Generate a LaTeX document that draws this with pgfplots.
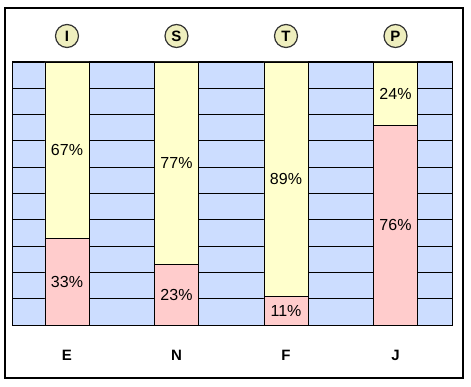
\documentclass[border=0pt]{standalone}
\usepackage{pgfplots}
\pgfplotsset{compat=1.18}
\usepackage{fontspec}
\setmainfont{Liberation Sans}
\definecolor{bgblue}{RGB}{204,221,255}
\definecolor{barpink}{RGB}{255,204,204}
\definecolor{baryellow}{RGB}{255,255,204}
\definecolor{circfill}{RGB}{238,238,190}
\tikzset{
  pct/.style={font=\fontsize{16}{18}\selectfont},
  circ/.style={circle, draw=black!80, line width=1.2pt, fill=circfill, minimum size=23pt, inner sep=0pt, font=\fontsize{15}{17}\selectfont\bfseries, yshift=26pt}
}
\begin{document}
\begin{tikzpicture}
\useasboundingbox (0pt,0pt) rectangle (471pt,386pt);
\draw[line width=1.3pt, black] (5pt,8pt) rectangle (463pt,378pt);
\begin{axis}[
  at={(13pt,61pt)}, anchor=south west,
  scale only axis, width=439pt, height=263pt,
  xmin=-0.493, xmax=3.516, ymin=0, ymax=100,
  ybar stacked, bar width=44pt,
  axis background/.style={fill=bgblue},
  axis line style={black, line width=1pt},
  ytick={0,10,...,100}, yticklabels={},
  ymajorgrids, grid style={black, line width=0.9pt},
  xtick={0,1,2,3}, xticklabels={E,N,F,J},
  major tick length=0pt,
  xticklabel style={anchor=center, yshift=-30pt, font=\fontsize{15}{17}\selectfont\bfseries},
  clip=false,
]
\addplot[fill=barpink, draw=black, line width=0.9pt] coordinates {(0,33) (1,23) (2,11) (3,76)};
\addplot[fill=baryellow, draw=black, line width=0.9pt] coordinates {(0,67) (1,77) (2,89) (3,24)};
\coordinate (a1) at (axis cs:0,16.5);
\coordinate (a2) at (axis cs:0,66.5);
\coordinate (b1) at (axis cs:1,11.5);
\coordinate (b2) at (axis cs:1,61.5);
\coordinate (c1) at (axis cs:2,5.5);
\coordinate (c2) at (axis cs:2,55.5);
\coordinate (d1) at (axis cs:3,38);
\coordinate (d2) at (axis cs:3,88);
\coordinate (t0) at (axis cs:0,100);
\coordinate (t1) at (axis cs:1,100);
\coordinate (t2) at (axis cs:2,100);
\coordinate (t3) at (axis cs:3,100);
\end{axis}
\node[pct] at (a1) {33\%};
\node[pct] at (a2) {67\%};
\node[pct] at (b1) {23\%};
\node[pct] at (b2) {77\%};
\node[pct] at (c1) {11\%};
\node[pct] at (c2) {89\%};
\node[pct] at (d1) {76\%};
\node[pct] at (d2) {24\%};
\node[circ] at (t0) {I};
\node[circ] at (t1) {S};
\node[circ] at (t2) {T};
\node[circ] at (t3) {P};
\end{tikzpicture}
\end{document}
